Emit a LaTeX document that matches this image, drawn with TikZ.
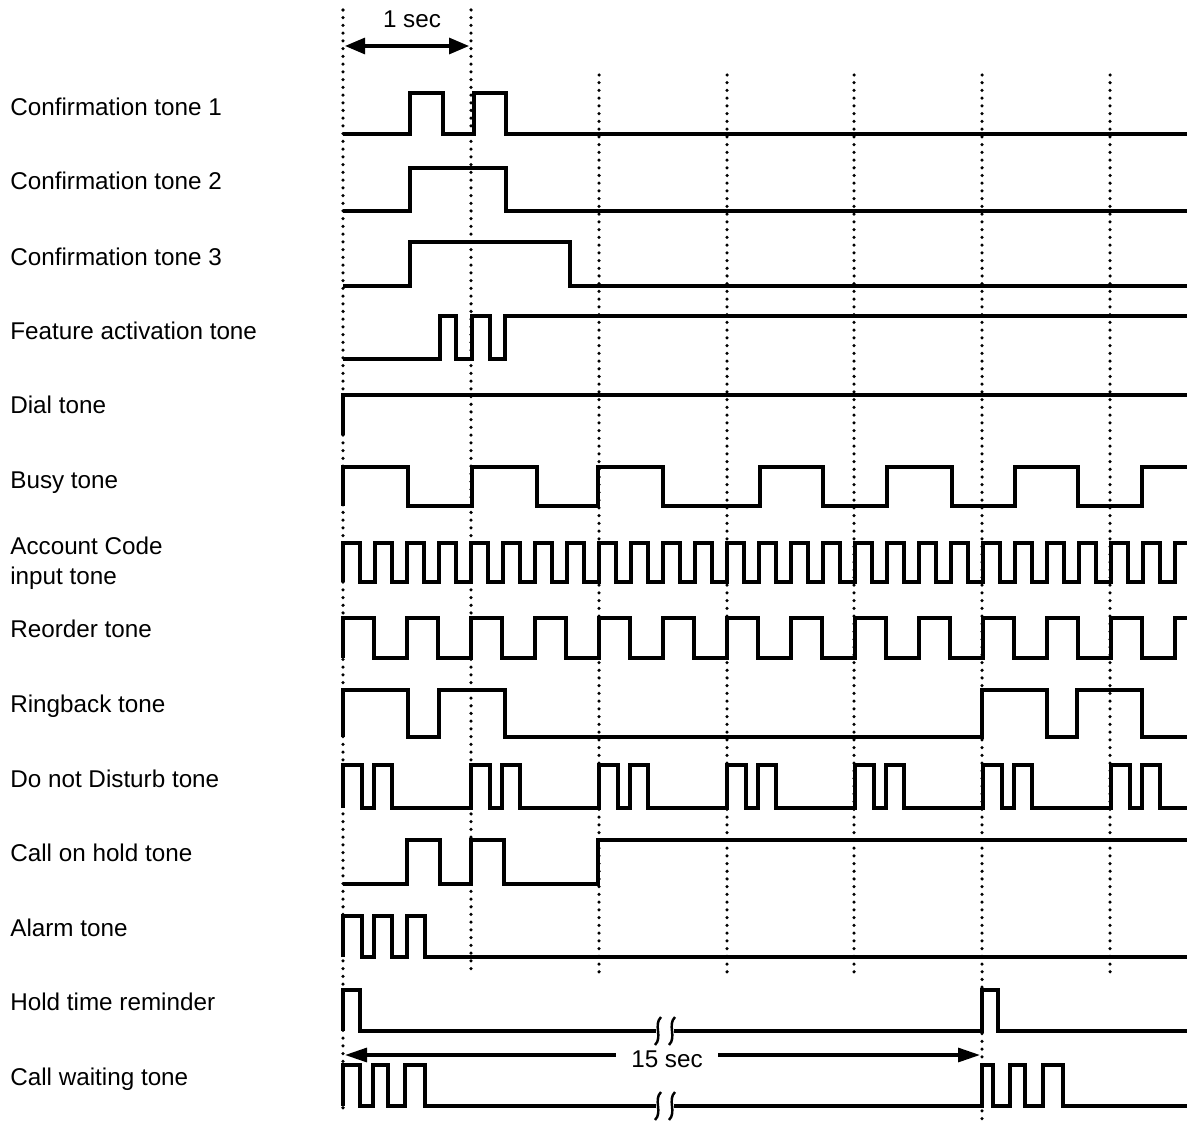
\documentclass[tikz,border=0pt]{standalone}
\usepackage{fontspec}
\setmainfont{Liberation Sans}
\usetikzlibrary{arrows.meta}

\begin{document}
\begin{tikzpicture}[
    x=0.02cm, y=-0.02cm,
    tone/.style={draw, line width=2.8pt, line join=miter},
    tonename/.style={anchor=base west, inner sep=0pt, align=left, font=\fontsize{13.8}{17}\selectfont},
    secline/.style={line width=2pt, dash pattern=on 0pt off 4.4pt, line cap=round},
    brk/.style={line width=1.4pt},
    span/.style={line width=1.8pt},
    spantext/.style={inner sep=0pt, font=\fontsize{13.8}{17}\selectfont}
]
\useasboundingbox (0,0) rectangle (1193,1122);
\fill[white] (0,0) rectangle (1193,1122);

% Second marks
\draw[secline] (343,10) -- (343,1115);
\draw[secline] (471,10) -- (471,972);
\foreach \x in {599,727,854,1110}
    \draw[secline] (\x,75) -- (\x,972);
\draw[secline] (982,75) -- (982,1122);

% One second
\coordinate (onel) at (345,46);
\coordinate (oner) at (469,46);
\node[spantext] (onesec) at (412,19) {1 sec};
\draw[span, {Triangle[length=0.4cm, width=0.32cm]}-{Triangle[length=0.4cm, width=0.32cm]}] (onel) -- (oner);

% Tone names
\node[tonename] (conf1) at (10,115) {Confirmation tone 1};
\node[tonename] (conf2) at (10,189) {Confirmation tone 2};
\node[tonename] (conf3) at (10,265) {Confirmation tone 3};
\node[tonename] (feat) at (10,339) {Feature activation tone};
\node[tonename] (dial) at (10,413) {Dial tone};
\node[tonename] (busy) at (10,488) {Busy tone};
\node[tonename, anchor=west] (acct) at (10,563) {Account Code\\input tone};
\node[tonename] (reord) at (10,637) {Reorder tone};
\node[tonename] (ringb) at (10,712) {Ringback tone};
\node[tonename] (dnd) at (10,787) {Do not Disturb tone};
\node[tonename] (hold) at (10,861) {Call on hold tone};
\node[tonename] (alarm) at (10,936) {Alarm tone};
\node[tonename] (remind) at (10,1010) {Hold time reminder};
\node[tonename] (cwait) at (10,1085) {Call waiting tone};

% Confirmation tones
\draw[tone] (343,134) -| (410,93) -| (443,134) -| (474,93) -| (506,134) -- (1187,134);
\draw[tone] (343,211) -| (410,168) -| (506,211) -- (1187,211);
\draw[tone] (343,286) -| (410,242) -| (570,286) -- (1187,286);

% Feature activation tone
\draw[tone] (343,359) -| (440,316) -| (456,359) -| (472,316) -| (490,359) -| (505,316) -- (1187,316);

% Dial tone
\draw[tone] (343,435) |- (1187,395);

% Busy tone
\draw[tone] (343,506) -- (343,467) -| (408,506) -| (472,467) -| (537,506) -| (598,467) -| (663,506)
    -| (760,467) -| (823,506) -| (887,467) -| (952,506) -| (1015,467) -| (1078,506) -| (1142,467) -- (1187,467);

% Account Code input tone
\draw[tone] (343,582) \foreach \k in {0,...,25} { -| (343+32*\k,543) -| (360+32*\k,582) } -| (1175,543) -- (1187,543);

% Reorder tone
\draw[tone] (343,658) \foreach \k in {0,...,12} { -| (343+64*\k,618) -| (374+64*\k,658) } -| (1175,618) -- (1187,618);

% Ringback tone
\draw[tone] (343,737) -- (343,690) -| (408,737) -| (439,690) -| (505,737) -| (982,690) -| (1047,737)
    -| (1077,690) -| (1142,737) -- (1187,737);

% Do not Disturb tone
\draw[tone] (343,808) \foreach \k in {0,...,6} { -| (343+128*\k,765) -| (362+128*\k,808) -| (374+128*\k,765) -| (392+128*\k,808) } -- (1187,808);

% Call on hold tone
\draw[tone] (343,884) -| (407,840) -| (440,884) -| (471,840) -| (504,884) -| (598,840) -- (1187,840);

% Alarm tone
\draw[tone] (343,957) -- (343,916) -| (362,957) -| (374,916) -| (392,957) -| (407,916) -| (425,957) -- (1187,957);

% Hold time reminder
\draw[tone] (343,1031) -- (343,990) -| (360,1031) -- (656,1031);
\draw[tone] (674,1031) -| (982,990) -| (998,1031) -- (1187,1031);

% Call waiting tone
\draw[tone] (343,1106) -- (343,1065) -| (360,1106) -| (373,1065) -| (388,1106) -| (405,1065) -| (425,1106) -- (656,1106);
\draw[tone] (674,1106) -| (982,1065) -| (993,1106) -| (1010,1065) -| (1025,1106) -| (1043,1065) -| (1063,1106) -- (1187,1106);

% Time breaks
\foreach \bx/\by in {658/1031, 672/1031, 658/1106, 672/1106}
    \draw[brk] (\bx+3,\by-14) .. controls (\bx-5,\by-6) and (\bx+5,\by+6) .. (\bx-3,\by+14);

% Fifteen seconds
\coordinate (fifl) at (345,1055);
\coordinate (fifr) at (980,1055);
\node[spantext, fill=white, inner xsep=0.3cm, inner ysep=1pt] (fifsec) at (667,1059) {15 sec};
\draw[span, -{Triangle[length=0.44cm, width=0.28cm]}] (fifsec.west |- fifl) -- (fifl);
\draw[span, -{Triangle[length=0.44cm, width=0.28cm]}] (fifsec.east |- fifr) -- (fifr);

\end{tikzpicture}
\end{document}
